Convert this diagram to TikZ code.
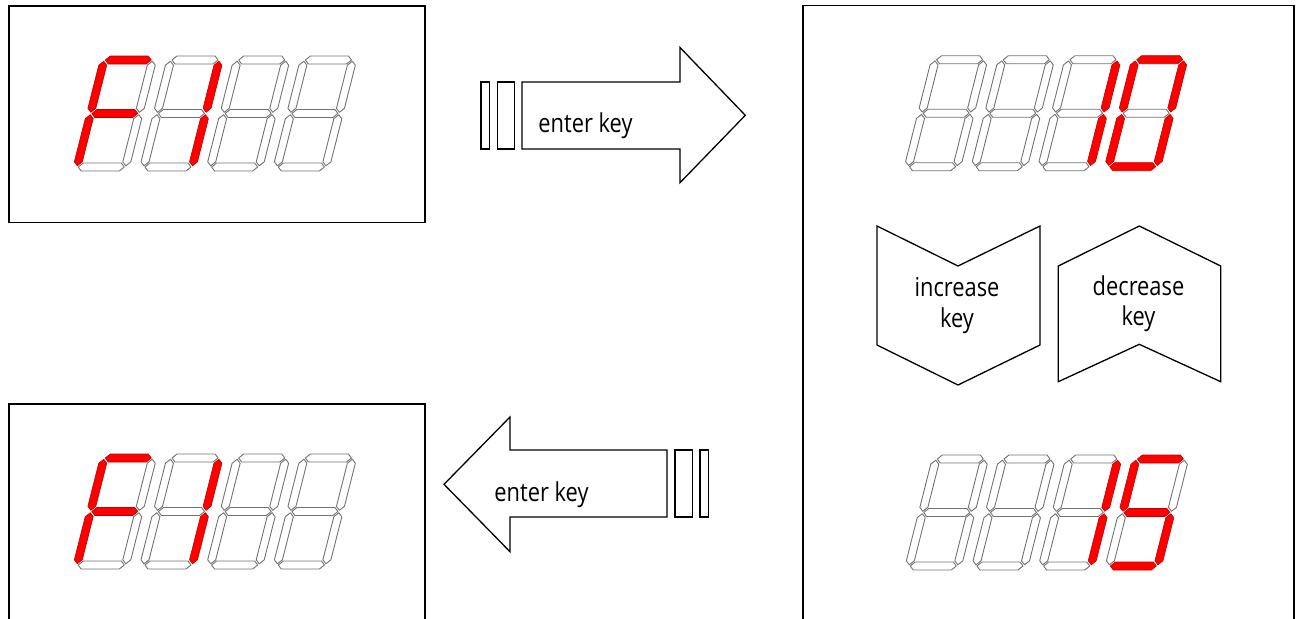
\documentclass[tikz,border=0pt]{standalone}
\usepackage{fontspec}
\usepackage{graphicx}
\setmainfont{Open Sans}
\tikzset{
  frame/.style={draw=black, line width=0.85pt},
  blk/.style={draw=black, fill=white, line width=0.65pt, line join=miter},
  segon/.style={fill=red, draw=red!75!black, line width=0.3pt, line join=round},
  segoff/.style={fill=white, draw=black!55, line width=0.45pt, line join=round},
  lbl/.style={anchor=base, inner sep=0pt, font=\fontsize{13}{15}\selectfont}
}
% one slanted seven-segment digit: x0, ybase, styles of a b c d e f g
\newcommand\segdigit[9]{%
  \begin{scope}[shift={({#1*0.5pt},{-#2*0.5pt})}, x={(0.5pt,0pt)}, y={(0.1265pt,0.5pt)}]
    \path[#3] (1.2,107) -- (5.2,111) -- (43.3,111) -- (47.3,107) -- (43.3,103) -- (5.2,103) -- cycle;
    \path[#4] (48.5,54.7) -- (52.5,58.7) -- (52.5,101.8) -- (48.5,105.8) -- (44.5,101.8) -- (44.5,58.7) -- cycle;
    \path[#5] (48.5,1.2) -- (52.5,5.2) -- (52.5,48.3) -- (48.5,52.3) -- (44.5,48.3) -- (44.5,5.2) -- cycle;
    \path[#6] (1.2,0) -- (5.2,4) -- (43.3,4) -- (47.3,0) -- (43.3,-4) -- (5.2,-4) -- cycle;
    \path[#7] (0,1.2) -- (4,5.2) -- (4,48.3) -- (0,52.3) -- (-4,48.3) -- (-4,5.2) -- cycle;
    \path[#8] (0,54.7) -- (4,58.7) -- (4,101.8) -- (0,105.8) -- (-4,101.8) -- (-4,58.7) -- cycle;
    \path[#9] (1.2,53.5) -- (5.2,57.5) -- (43.3,57.5) -- (47.3,53.5) -- (43.3,49.5) -- (5.2,49.5) -- cycle;
  \end{scope}}
\newcommand\digF[2]{\segdigit{#1}{#2}{segon}{segoff}{segoff}{segoff}{segon}{segon}{segon}}
\newcommand\digOne[2]{\segdigit{#1}{#2}{segoff}{segon}{segon}{segoff}{segoff}{segoff}{segoff}}
\newcommand\digZero[2]{\segdigit{#1}{#2}{segon}{segon}{segon}{segon}{segon}{segon}{segoff}}
\newcommand\digFive[2]{\segdigit{#1}{#2}{segon}{segoff}{segon}{segon}{segoff}{segon}{segon}}
\newcommand\digBlank[2]{\segdigit{#1}{#2}{segoff}{segoff}{segoff}{segoff}{segoff}{segoff}{segoff}}
\newcommand\segdisplay[6]{%
  \pgfmathsetmacro\sdxa{#1}\pgfmathsetmacro\sdxb{#1+66.7}%
  \pgfmathsetmacro\sdxc{#1+133.4}\pgfmathsetmacro\sdxd{#1+200.1}%
  #3{\sdxa}{#2}#4{\sdxb}{#2}#5{\sdxc}{#2}#6{\sdxd}{#2}}
\begin{document}
\begin{tikzpicture}[x=0.5pt, y=-0.5pt]
\useasboundingbox (0,0) rectangle (1302,618);
\clip (0,0) rectangle (1302,618);
% frames
\draw[frame] (9,6) rectangle (425,222.5);
\draw[frame] (9,640) -- (9,404.3) -- (425,404.3) -- (425,640);
\draw[frame] (802.7,640) -- (802.7,5.5) -- (1294.3,5.5) -- (1294.3,640);
% displays
\segdisplay{77}{167}{\digF}{\digOne}{\digBlank}{\digBlank}
\segdisplay{77}{565}{\digF}{\digOne}{\digBlank}{\digBlank}
\segdisplay{908.3}{166.7}{\digBlank}{\digBlank}{\digOne}{\digZero}
\segdisplay{909}{566}{\digBlank}{\digBlank}{\digOne}{\digFive}
% right arrow with key bars
\draw[blk] (481,82) rectangle (489.5,149);
\draw[blk] (497.5,82) rectangle (514.5,149);
\draw[blk] (522,82) -- (680,82) -- (680,47.5) -- (745.3,115.3) -- (680,182.7) -- (680,149) -- (522,149) -- cycle;
\node[lbl] (t1) at (585.5,132.3) {\scalebox{0.84}[1]{enter key}};
% left arrow with key bars
\draw[blk] (667,450) -- (510,450) -- (510,417) -- (444,484.3) -- (510,551.7) -- (510,517) -- (667,517) -- cycle;
\draw[blk] (675,450) rectangle (692.3,517);
\draw[blk] (700,450) rectangle (708.3,517);
\node[lbl] (t2) at (541.5,501) {\scalebox{0.84}[1]{enter key}};
% increase / decrease keys
\draw[blk] (877,226) -- (958,266) -- (1040,226) -- (1040,345) -- (958,385) -- (877,345) -- cycle;
\draw[blk] (1058.3,266) -- (1139.3,226) -- (1220.7,266) -- (1220.7,381.7) -- (1139.3,344.3) -- (1058.3,381.7) -- cycle;
\node[lbl] (inc1) at (957,296.7) {\scalebox{0.84}[1]{increase}};
\node[lbl] (inc2) at (957,327) {\scalebox{0.84}[1]{key}};
\node[lbl] (dec1) at (1138.5,295) {\scalebox{0.84}[1]{decrease}};
\node[lbl] (dec2) at (1138.5,325) {\scalebox{0.84}[1]{key}};
\end{tikzpicture}
\end{document}
